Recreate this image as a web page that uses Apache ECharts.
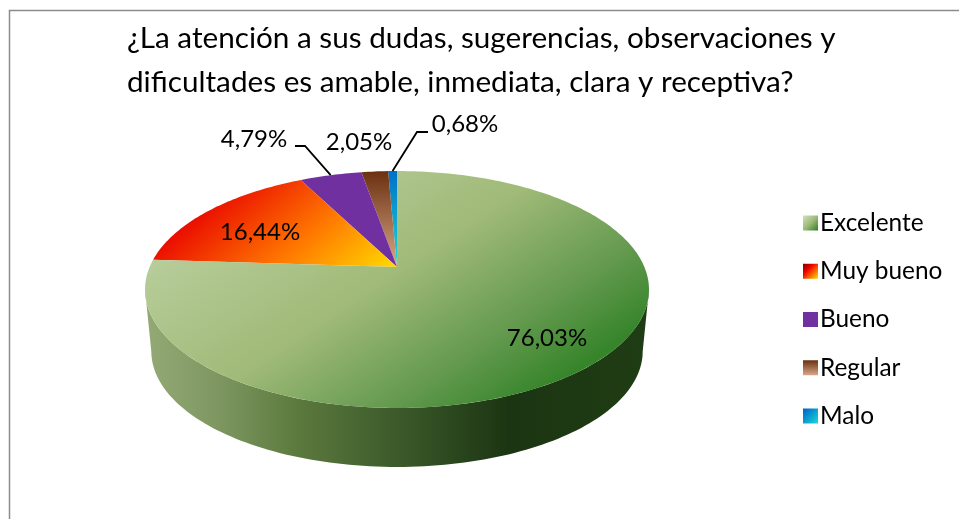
<!DOCTYPE html>
<html><head><meta charset="utf-8">
<script src="https://cdn.jsdelivr.net/npm/echarts@6/dist/echarts.min.js"></script>
<style>html,body{margin:0;padding:0;background:#fff}#c{width:959px;height:519px}</style>
</head><body><div id="c"></div>
<script>
const categories = ['Excelente','Muy bueno','Bueno','Regular','Malo'];
const percents = [76.03,16.44,4.79,2.05,0.68];
const titleLines = ['¿La atención a sus dudas, sugerencias, observaciones y','dificultades es amable, inmediata, clara y receptiva?'];

// projection of the tilted disc
const APEX_X=397, APEX_Y=267, B=247.4, A=114.2, P=0.19;
const WALL_S=0.975, WALL_D=62.5;
function proj(theta, bottom){
  const u=Math.sin(theta), v=-Math.cos(theta), w=1-P*v, s=bottom?WALL_S:1, d=bottom?WALL_D:0;
  return [APEX_X+s*B*u/w, APEX_Y+s*A*v/w+d];
}
const FRONT_A=Math.acos(-P), FRONT_B=2*Math.PI-FRONT_A;
const total=percents.reduce((a,b)=>a+b,0);
const starts=[]; percents.reduce((acc,v,i)=>{starts[i]=acc;return acc+v;},0);
const toAngle=p=>p/total*2*Math.PI;

const G=(x,y,x2,y2,stops,global)=>new echarts.graphic.LinearGradient(x,y,x2,y2,stops.map((c,i)=>({offset:c[0],color:c[1]})),global);
const topFill=[
 G(230,170,427,467,[[0,'#bcd1a2'],[0.5,'#a0ba78'],[0.8,'#649a4f'],[1,'#37852b']],true),
 G(215,185,335,325,[[0,'#e80000'],[0.55,'#ff7a00'],[1,'#ffe000']],true),
 '#7030a0',
 G(0,171,0,267,[[0,'#6b3010'],[1,'#d8a888']],true),
 G(0,171,0,267,[[0,'#0070c8'],[1,'#18dcd8']],true)
];
const legendFill=[
 G(0,0,1,1,[[0,'#cfe0bd'],[0.5,'#9dbb78'],[1,'#2f7d25']]),
 G(0,0,1,1,[[0,'#7a0000'],[0.35,'#f00000'],[1,'#ffe000']]),
 '#7030a0',
 G(0,0,0,1,[[0,'#6b3010'],[1,'#d8a888']]),
 G(0,0,1,1,[[0,'#0060c8'],[1,'#18dcd8']])
];
const wallFill=G(145,0,650,0,[[0,'#94aa76'],[0.15,'#7d9660'],[0.3,'#5c7a3e'],[0.5,'#3c5a2a'],[0.72,'#1b3512'],[1,'#1f3d14']],true);

const labelAt=[[547,338],[260,232],[254,139],[359,142],[465,124]];
const leaderKnee=[null,null,[[295,146],[305,146]],null,[[428,132],[417,132]]];

function renderSlice(i){
  return function(){
    const a0=toAngle(starts[i]), a1=toAngle(starts[i]+percents[i]);
    const children=[];
    const N=Math.max(3,Math.ceil((a1-a0)*60));
    const w0=Math.max(a0,FRONT_A), w1=Math.min(a1,FRONT_B);
    if(w1>w0){
      const up=[],lo=[];
      for(let k=0;k<=120;k++){const t=w0+(w1-w0)*k/120;up.push(proj(t,false));lo.unshift(proj(t,true));}
      children.push({type:'polygon',shape:{points:up.concat(lo)},style:{fill:wallFill}});
    }
    const pts=[[APEX_X,APEX_Y]];
    for(let k=0;k<=N;k++)pts.push(proj(a0+(a1-a0)*k/N,false));
    children.push({type:'polygon',shape:{points:pts},style:{fill:topFill[i]}});
    if(leaderKnee[i]){
      const end=proj((a0+a1)/2,false);
      children.push({type:'polyline',z2:5,shape:{points:leaderKnee[i].concat([end])},style:{fill:null,stroke:'#000',lineWidth:1.8}});
    }
    children.push({type:'text',z2:10,style:{x:labelAt[i][0],y:labelAt[i][1],text:percents[i].toFixed(2).replace('.',',')+'%',
      font:'24px Lato',fill:'#000',align:'center',verticalAlign:'middle'}});
    return {type:'group',children};
  };
}
const series=categories.map((name,i)=>({
  name,type:'custom',coordinateSystem:'none',animation:false,silent:true,
  itemStyle:{color:legendFill[i]},
  renderItem:renderSlice(i),data:[percents[i]],z:5-i
}));

const chart=echarts.init(document.getElementById('c'),null,{renderer:'canvas'});
chart.setOption({
  animation:false,backgroundColor:'#fff',
  title:{text:titleLines.join('\n'),left:127,top:16,padding:0,textStyle:{fontFamily:'Lato',fontSize:29.7,fontWeight:'normal',color:'#000',lineHeight:44}},
  legend:{orient:'vertical',left:798,top:206,itemWidth:15,itemHeight:15,itemGap:24.25,icon:'rect',
    data:categories,textStyle:{fontFamily:'Lato',fontSize:24.4,lineHeight:23,color:'#000',padding:[0,0,0,-3]}},
  graphic:[{type:'rect',silent:true,z:-1,shape:{x:9.5,y:10.5,width:1000,height:560},style:{fill:'none',stroke:'#8c8c8c',lineWidth:1.5}}],
  series
});
</script></body></html>
